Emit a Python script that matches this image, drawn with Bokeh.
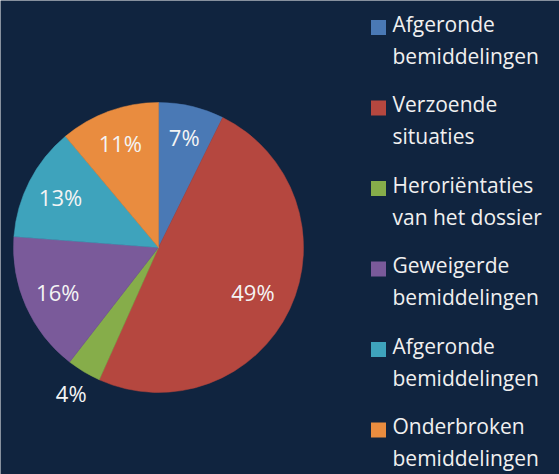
import math
from bokeh.plotting import figure
from bokeh.models import Range1d, ColumnDataSource
from bokeh.core.properties import value
from bokeh.embed import file_html
from bokeh.resources import INLINE

# ---- data ----
categories = [
    "Afgeronde\nbemiddelingen",
    "Verzoende\nsituaties",
    "Heroriëntaties\nvan het dossier",
    "Geweigerde\nbemiddelingen",
    "Afgeronde\nbemiddelingen",
    "Onderbroken\nbemiddelingen",
]
shares = [7.3, 49.4, 3.8, 15.7, 12.7, 11.1]
colors = ["#4a79b5", "#b5473f", "#86ad4a", "#7a5a9a", "#3ea3bc", "#e98c3f"]
label_radius_factor = [0.78, 0.72, 1.17, 0.76, 0.76, 0.77]

W, H = 559, 474
BG = "#10243f"
CX, CY, R = 158, H - 247, 145

p = figure(width=W, height=H, output_backend="svg", toolbar_location=None,
           x_range=Range1d(0, W), y_range=Range1d(0, H),
           x_axis_type=None, y_axis_type=None, min_border=0)
p.background_fill_color = BG
p.border_fill_color = BG
p.outline_line_color = None
p.xgrid.visible = False
p.ygrid.visible = False

total = sum(shares)
starts, ends, lx, ly, ltext = [], [], [], [], []
cum = 0.0
for s, f in zip(shares, label_radius_factor):
    a0 = math.pi / 2 - 2 * math.pi * cum / total
    a1 = math.pi / 2 - 2 * math.pi * (cum + s) / total
    starts.append(a1)
    ends.append(a0)
    mid = (a0 + a1) / 2
    lx.append(CX + f * R * math.cos(mid))
    ly.append(CY + f * R * math.sin(mid))
    ltext.append(f"{round(s)}%")
    cum += s

src = ColumnDataSource(dict(start=starts, end=ends, color=colors))
p.wedge(x=CX, y=CY, radius=R, start_angle="start", end_angle="end",
        fill_color="color", line_color="color", line_width=0.5, source=src)

p.text(x=lx, y=ly, text=ltext, text_font=value("Open Sans"),
       text_font_size="22px", text_color="#f4f4f4",
       text_align="center", text_baseline="middle")

# ---- legend ----
LEG_X = 392
item_top = 23
item_step = 80.5
line_gap = 32
tx, ty, tt = [], [], []
sx, sy = [], []
for i, cat in enumerate(categories):
    lines = cat.split("\n")
    y0 = item_top + i * item_step
    for j, ln in enumerate(lines):
        tx.append(LEG_X)
        ty.append(H - (y0 + j * line_gap))
        tt.append(ln)
    sx.append(LEG_X - 14)
    sy.append(H - (y0 + 4))

p.rect(x=sx, y=sy, width=15, height=15, fill_color=colors, line_color=None)
p.text(x=tx, y=ty, text=tt, text_font=value("Open Sans"),
       text_font_size="21px", text_color="#f0f0f0",
       text_align="left", text_baseline="middle")

open("out.html", "w").write(file_html(p, INLINE))
